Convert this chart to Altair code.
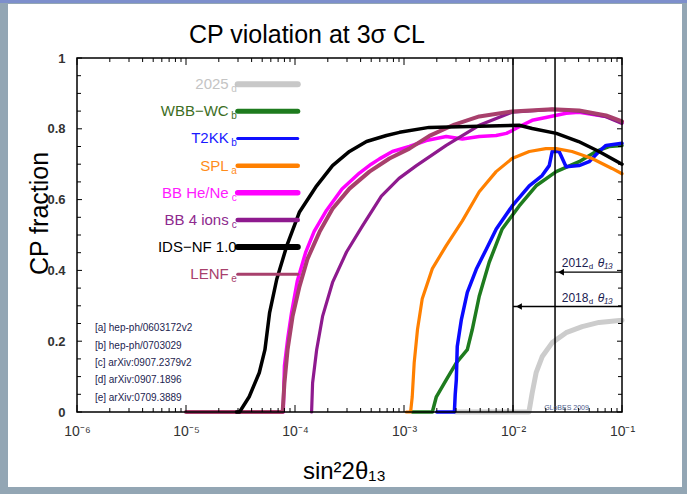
import altair as alt
import pandas as pd

# plot area (pixels)
W, H = 545, 354

# ---------------- sensitivity curves: sin^2(2 theta13) vs CP fraction ----------------
y2025_x = [3.0e-3, 1.4e-2, 1.5e-2, 1.63e-2, 1.85e-2, 2.29e-2, 3.07e-2, 4.31e-2, 6.15e-2, 0.1]
y2025_y = [0, 0, 0.054, 0.111, 0.156, 0.196, 0.224, 0.241, 0.253, 0.259]

wbb_x = [1.19e-3, 1.82e-3, 1.98e-3, 2.44e-3, 3.02e-3, 3.81e-3, 4.23e-3, 4.9e-3, 6.05e-3,
         7.96e-3, 1.14e-2, 1.63e-2, 2.49e-2, 4.04e-2, 5.78e-2, 7.6e-2, 0.1]
wbb_y = [0, 0, 0.043, 0.091, 0.139, 0.176, 0.233, 0.327, 0.423,
         0.517, 0.582, 0.639, 0.679, 0.707, 0.736, 0.75, 0.753]

t2kk_x = [2.0e-3, 2.9e-3, 2.95e-3, 3.02e-3, 3.08e-3, 3.36e-3, 3.81e-3, 4.6e-3, 5.69e-3, 7.02e-3,
          9.84e-3, 1.41e-2, 1.85e-2, 2.15e-2, 2.29e-2, 2.65e-2, 3.07e-2, 4.04e-2, 4.99e-2,
          6.15e-2, 7.13e-2, 0.1]
t2kk_y = [0, 0, 0.05, 0.091, 0.185, 0.261, 0.338, 0.403, 0.46, 0.517,
          0.582, 0.639, 0.668, 0.696, 0.736, 0.736, 0.693, 0.696, 0.707,
          0.736, 0.753, 0.759]

spl_x = [1.05e-3, 1.15e-3, 1.19e-3, 1.24e-3, 1.33e-3, 1.47e-3, 1.82e-3, 2.44e-3, 3.43e-3,
         4.9e-3, 7.0e-3, 9.8e-3, 1.41e-2, 2.0e-2, 2.49e-2, 3.48e-2, 5.31e-2, 8.09e-2, 0.1]
spl_y = [0, 0, 0.043, 0.139, 0.233, 0.32, 0.405, 0.47, 0.54,
         0.622, 0.679, 0.716, 0.736, 0.744, 0.744, 0.736, 0.716, 0.688, 0.673]

hene_x = [7.8e-5, 8.0e-5, 8.6e-5, 9.3e-5, 1.05e-4, 1.25e-4, 1.5e-4, 1.95e-4, 2.7e-4, 3.9e-4,
          5.0e-4, 5.96e-4, 7.83e-4, 1.12e-3, 1.6e-3, 2.44e-3, 3.43e-3, 4.9e-3, 7.0e-3,
          8.7e-3, 9.8e-3, 1.21e-2, 1.5e-2, 2.0e-2, 3.07e-2, 4.04e-2, 7.13e-2, 0.1]
hene_y = [0, 0.13, 0.21, 0.28, 0.37, 0.45, 0.51, 0.57, 0.63, 0.675,
          0.70, 0.715, 0.736, 0.75, 0.767, 0.778, 0.771, 0.778, 0.781,
          0.787, 0.795, 0.81, 0.824, 0.832, 0.844, 0.847, 0.835, 0.818]

ions_x = [1.42e-4, 1.45e-4, 1.58e-4, 1.79e-4, 2.21e-4, 2.97e-4, 4.16e-4, 6.2e-4, 9.0e-4,
          1.3e-3, 2.44e-3, 4.9e-3, 9.8e-3, 2.29e-2, 4.04e-2, 7.13e-2, 0.1]
ions_y = [0, 0.082, 0.176, 0.27, 0.366, 0.452, 0.526, 0.61, 0.66,
          0.696, 0.753, 0.81, 0.847, 0.855, 0.85, 0.834, 0.815]

ids_x = [2.9e-5, 3.1e-5, 3.8e-5, 4.7e-5, 5.3e-5, 5.85e-5, 6.8e-5, 8.4e-5, 1.1e-4, 1.58e-4,
         2.21e-4, 3.16e-4, 4.53e-4, 6.9e-4, 9.1e-4, 1.7e-3, 4.9e-3, 1.14e-2, 1.5e-2,
         2.5e-2, 4.0e-2, 6.15e-2, 0.1]
ids_y = [0, 0, 0.043, 0.111, 0.176, 0.281, 0.375, 0.469, 0.565, 0.639,
         0.696, 0.736, 0.764, 0.781, 0.79, 0.804, 0.807, 0.81, 0.801,
         0.787, 0.764, 0.736, 0.70]

lenf_x = [1.0e-5, 7.7e-5, 8.0e-5, 8.55e-5, 9.5e-5, 1.1e-4, 1.3e-4, 1.68e-4, 2.21e-4, 3.16e-4,
          4.82e-4, 7.35e-4, 1.12e-3, 1.71e-3, 2.9e-3, 4.9e-3, 9.8e-3, 2.29e-2, 4.04e-2,
          7.13e-2, 0.1]
lenf_y = [0, 0, 0.082, 0.176, 0.27, 0.355, 0.432, 0.509, 0.574, 0.631,
          0.679, 0.716, 0.744, 0.78, 0.812, 0.835, 0.849, 0.855, 0.852,
          0.838, 0.821]

# legend entries (top to bottom)
leg_labels = ["2025", "WBB−WC", "T2KK", "SPL", "BB He/Ne", "BB 4 ions", "IDS−NF 1.0", "LENF"]
leg_subs = ["d", "b", "b", "a", "c", "c", "", "e"]
leg_colors = ["#c8c8c8", "#1e7b1e", "#1010ff", "#ff8000", "#ff00ff", "#8e1a8e", "#000000", "#a8406c"]
leg_text_colors = ["#c4c4c4", "#3d6e1e", "#1a1aff", "#ff8c1a", "#ff1aff", "#8e2a8e", "#000000", "#a8406c"]
leg_widths = [6, 5, 3, 4.5, 5.5, 4.5, 6, 3]

# references
refs = ["[a] hep-ph/0603172v2", "[b] hep-ph/0703029", "[c] arXiv:0907.2379v2",
        "[d] arXiv:0907.1896", "[e] arXiv:0709.3889"]

# theta13 reach markers
reach_years = ["2012", "2018"]
reach_x = [0.0243, 0.01]
reach_y = [0.395, 0.298]

# axis tick values
x_major = [1e-6, 1e-5, 1e-4, 1e-3, 1e-2, 1e-1]
x_minor = [k * 10.0 ** d for d in range(-6, -1) for k in range(2, 10)]
y_major = [0, 0.2, 0.4, 0.6, 0.8, 1.0]
y_minor = [0.05, 0.1, 0.15, 0.25, 0.3, 0.35, 0.45, 0.5, 0.55, 0.65, 0.7, 0.75, 0.85, 0.9, 0.95]

TITLE = "CP violation at 3σ CL"
FONT = "Liberation Sans"

xscale = alt.Scale(type="log", domain=[1e-6, 1e-1])
yscale = alt.Scale(domain=[0, 1], nice=False, zero=False)

xaxis = alt.Axis(
    values=x_major,
    labelExpr="'10' + ['⁻⁶','⁻⁵','⁻⁴','⁻³','⁻²','⁻¹'][round(log(datum.value) / LN10) + 6]",
    ticks=False, domain=False, grid=False, labelFlush=False,
    labelFont=FONT, labelFontSize=14, labelColor="#333333", labelPadding=12,
    title="sin²2θ₁₃", titleFont=FONT, titleFontSize=24, titleFontWeight="normal",
    titleColor="black", titleX=267, titleY=66, titleBaseline="alphabetic",
    titleAlign="center", zindex=1,
)
yaxis = alt.Axis(
    values=y_major, format="~g",
    ticks=False, domain=False, grid=False,
    labelFont=FONT, labelFontSize=13, labelFontWeight="bold", labelColor="#333333",
    labelPadding=12,
    title="CP fraction", titleFont=FONT, titleFontSize=25, titleFontWeight="normal",
    titleColor="black", titleX=-30, titleY=155, titleBaseline="alphabetic",
    titleAlign="center", titleAngle=-90, zindex=1,
)

X = alt.X("x:Q", scale=xscale, axis=xaxis)
Y = alt.Y("y:Q", scale=yscale, axis=yaxis)

one = pd.DataFrame({"a": [0]})

# slide frame: white panel over the coloured page background
panel = alt.Chart(one).mark_rect(color="white").encode(
    x=alt.value(-69), x2=alt.value(605), y=alt.value(-54), y2=alt.value(429))
top_strip = alt.Chart(one).mark_rect(color="#7d8fcc").encode(
    x=alt.value(-77), x2=alt.value(610), y=alt.value(-58), y2=alt.value(-55))

# slide title
title = alt.Chart(pd.DataFrame({"t": [TITLE]})).mark_text(
    align="center", baseline="alphabetic", fontSize=25, font=FONT, color="black").encode(
    x=alt.value(230), y=alt.value(-15), text="t:N")


def curve(xs, ys, color, lw):
    df = pd.DataFrame({"x": xs, "y": ys})
    return alt.Chart(df).mark_line(color=color, strokeWidth=lw, strokeJoin="round",
                                   strokeCap="round").encode(x=X, y=Y)


curves = [
    curve(y2025_x, y2025_y, "#cccccc", 5),
    curve(wbb_x, wbb_y, "#1e7b1e", 3.5),
    curve(t2kk_x, t2kk_y, "#0a0aff", 3.5),
    curve(spl_x, spl_y, "#ff8000", 3.2),
    curve(hene_x, hene_y, "#ff00ff", 3.5),
    curve(ions_x, ions_y, "#8e1a8e", 3.2),
    curve(lenf_x, lenf_y, "#a8406c", 4),
    curve(ids_x, ids_y, "#000000", 3.5),
]

# theta13 reach: vertical lines and arrows towards smaller values
reach_df = pd.DataFrame({"x": reach_x, "y": reach_y, "x2": [0.1, 0.1], "year": reach_years})
vlines = alt.Chart(reach_df).mark_rule(color="black", strokeWidth=1.5).encode(
    x=X, y=alt.value(0), y2=alt.value(H))
arrows = alt.Chart(reach_df).mark_rule(color="black", strokeWidth=1.3).encode(
    x=X, x2=alt.X2("x2"), y=Y)
heads = alt.Chart(reach_df).mark_point(shape="triangle-left", filled=True, size=45,
                                       color="black", opacity=1, xOffset=6).encode(x=X, y=Y)
label_x = 0.028
ann_df = reach_df.assign(lx=label_x)
LX = alt.X("lx:Q", scale=xscale, axis=xaxis)
ann_year = alt.Chart(ann_df).mark_text(align="left", baseline="alphabetic", dy=-5,
                                       fontSize=12, font=FONT, color="#1a2050").encode(
    x=LX, y=Y, text="year:N")
ann_sub = alt.Chart(ann_df).mark_text(align="left", baseline="alphabetic", dx=27, dy=-3,
                                      fontSize=8, font=FONT, color="#1a2050", text="d").encode(
    x=LX, y=Y)
ann_theta = alt.Chart(ann_df).mark_text(align="left", baseline="alphabetic", dx=36, dy=-5,
                                        fontSize=12, font=FONT, fontStyle="italic",
                                        color="#1a2050", text="θ₁₃").encode(
    x=LX, y=Y)

# legend drawn inside the plot
leg_x0, leg_x1 = 2.98e-5, 1.06e-4
leg_df = pd.DataFrame({
    "label": leg_labels, "sub": leg_subs, "color": leg_colors, "tcolor": leg_text_colors,
    "lw": leg_widths, "y": [0.926 - i * 0.0767 for i in range(len(leg_labels))],
    "x": leg_x0, "x2": leg_x1,
})
leg_lines = alt.Chart(leg_df).mark_rule(strokeCap="round").encode(
    x=X, x2=alt.X2("x2"), y=Y,
    color=alt.Color("color:N", scale=None),
    strokeWidth=alt.StrokeWidth("lw:Q", scale=None))
leg_text_sub = alt.Chart(leg_df[leg_df["sub"] != ""]).mark_text(
    align="right", baseline="middle", dx=-9, fontSize=15, font=FONT).encode(
    x=X, y=Y, text="label:N", color=alt.Color("tcolor:N", scale=None))
leg_text_plain = alt.Chart(leg_df[leg_df["sub"] == ""]).mark_text(
    align="right", baseline="middle", dx=-1, fontSize=15, font=FONT).encode(
    x=X, y=Y, text="label:N", color=alt.Color("tcolor:N", scale=None))
leg_subscript = alt.Chart(leg_df[leg_df["sub"] != ""]).mark_text(
    align="right", baseline="middle", dx=-1, dy=5, fontSize=10, font=FONT).encode(
    x=X, y=Y, text="sub:N", color=alt.Color("tcolor:N", scale=None))

# reference list
ref_df = pd.DataFrame({"text": refs, "x": 1.46e-6,
                       "y": [0.236 - i * 0.049 for i in range(len(refs))]})
ref_text = alt.Chart(ref_df).mark_text(align="left", baseline="middle", fontSize=10,
                                       font=FONT, color="#1c2450").encode(
    x=X, y=Y, text="text:N")

credit = alt.Chart(pd.DataFrame({"x": [0.0193], "y": [0.01], "t": ["GLoBES 2009"]})).mark_text(
    align="left", baseline="middle", fontSize=7, font=FONT, color="#4a5a8a").encode(
    x=X, y=Y, text="t:N")


# inward ticks on all four sides
def xticks(values, length):
    df = pd.DataFrame({"x": values})
    base = alt.Chart(df).mark_rule(color="black", strokeWidth=1)
    return [base.encode(x=X, y=alt.value(H), y2=alt.value(H - length)),
            base.encode(x=X, y=alt.value(0), y2=alt.value(length))]


def yticks(values, length):
    df = pd.DataFrame({"y": values})
    base = alt.Chart(df).mark_rule(color="black", strokeWidth=1)
    return [base.encode(y=Y, x=alt.value(0), x2=alt.value(length)),
            base.encode(y=Y, x=alt.value(W), x2=alt.value(W - length))]


ticks = xticks(x_major, 7) + xticks(x_minor, 4) + yticks(y_major, 5) + yticks(y_minor, 4)

frame = alt.Chart(one).mark_rect(filled=False, stroke="black", strokeWidth=1.5).encode(
    x=alt.value(0), x2=alt.value(W), y=alt.value(0), y2=alt.value(H))

chart = alt.layer(
    panel, top_strip, title,
    *curves,
    vlines, arrows, heads, ann_year, ann_sub, ann_theta,
    leg_lines, leg_text_sub, leg_text_plain, leg_subscript,
    ref_text, credit,
    *ticks, frame,
).properties(
    width=W, height=H,
    background="#93a6b4",
    padding={"left": 77, "top": 58, "right": 65, "bottom": 82},
    autosize=alt.AutoSizeParams(type="none"),
).configure_view(strokeWidth=0)

chart.save("out.html", embed_options={"renderer": "svg", "actions": False})
